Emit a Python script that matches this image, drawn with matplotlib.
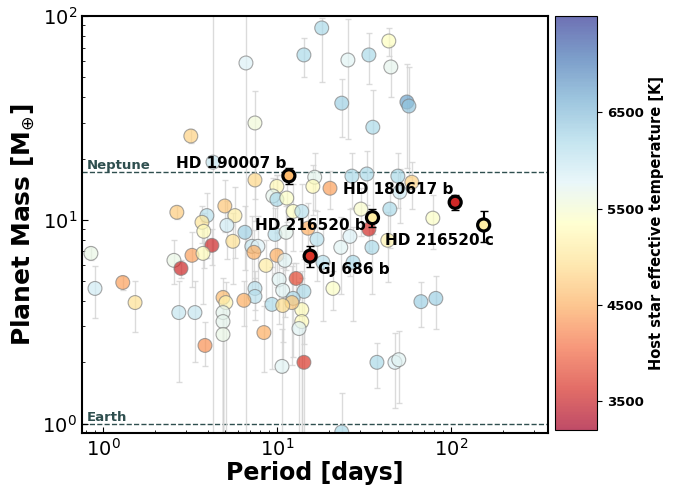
import numpy as np
import matplotlib
matplotlib.use('Agg')
import matplotlib.pyplot as plt

# background sample: period [d], mass [Mearth], Teff [K], mass errors
period = [0.853, 0.90, 1.30, 1.53, 2.56, 2.81, 2.73, 3.38, 3.86, 2.66,
          3.20, 4.29, 3.96, 3.71, 3.80, 5.02, 5.74, 5.16, 6.55, 5.58,
          4.23, 3.25, 3.76, 6.64, 7.48, 7.48, 10.0, 9.48, 10.0, 11.4,
          7.18, 7.78, 7.38, 8.65, 10.0, 11.1, 9.75, 11.3, 12.4, 13.9,
          15.1, 17.0, 16.5, 16.1, 20.2, 27.0, 32.9, 49.6, 59.7, 50.9,
          30.4, 44.6, 78.8, 33.8, 26.3, 23.3, 35.2, 43.4, 27.4, 18.4,
          21.0, 67.3, 82.0, 37.6, 47.7, 50.2, 23.6, 14.3, 13.9, 14.3,
          12.9, 10.3, 10.8, 12.4, 12.2, 9.36, 10.8, 13.9, 13.4, 10.7,
          7.48, 7.48, 6.46, 4.90, 5.09, 4.90, 4.90, 4.90, 8.42, 14.3,
          18.1, 25.6, 33.8, 44.0, 45.2, 23.6, 55.9, 57.4, 35.6]
mass = [6.85, 4.61, 4.93, 3.93, 6.33, 5.78, 3.51, 3.51, 2.42, 10.9,
        25.8, 19.2, 10.5, 9.73, 8.79, 11.7, 10.5, 9.40, 8.69, 7.85,
        7.50, 6.70, 6.85, 58.9, 29.9, 15.7, 14.6, 13.1, 12.6, 12.8,
        7.42, 7.42, 6.93, 5.98, 6.70, 6.33, 8.49, 8.69, 11.0, 11.0,
        9.1, 8.03, 16.2, 14.6, 14.3, 16.4, 16.8, 16.4, 15.3, 13.7,
        11.3, 11.3, 10.2, 9.0, 8.30, 7.33, 7.33, 7.94, 6.19, 6.19,
        4.61, 3.97, 4.12, 2.0, 2.0, 2.06, 0.91, 4.46, 3.63, 2.0,
        5.16, 5.10, 4.51, 4.12, 3.93, 3.85, 3.80, 3.17, 2.93, 1.91,
        4.61, 4.21, 4.03, 4.16, 3.93, 3.51, 3.17, 2.74, 2.80, 64.5,
        87.5, 60.9, 64.5, 75.5, 56.3, 37.4, 37.9, 36.2, 28.5]
teff = [5650, 5900, 4400, 4950, 5650, 3550, 6000, 6000, 4300, 4750,
        4800, 6000, 6100, 5000, 5300, 4700, 5100, 5900, 6300, 4950,
        3550, 4400, 5300, 5800, 5550, 4850, 5250, 5700, 6200, 5400,
        6000, 5800, 4500, 5100, 4500, 5750, 6100, 5700, 5350, 6100,
        4500, 6100, 5700, 5300, 4400, 6200, 6200, 6200, 4800, 5900,
        5450, 6200, 5400, 3600, 5800, 5750, 6200, 5200, 6200, 6100,
        5400, 6300, 6300, 6200, 5800, 5750, 6200, 6200, 5300, 3700,
        3800, 5750, 5750, 6200, 4700, 6200, 4900, 5300, 5750, 5750,
        6100, 6100, 4500, 4600, 5200, 5700, 5700, 5650, 4500, 6200,
        6200, 5750, 6200, 5350, 5700, 6300, 6700, 6400, 6200]
err_lo = [0.5, 1.3, 0.4, 1.1, 1.5, 0.6, 1.9, 1.5, 0.5, 0.8,
          2.0, 18.5, 4, 2, 3, 3, 4, 3, 3, 3,
          1.5, 2, 3, 58.5, 20, 3, 2, 3, 4, 3,
          3, 3, 2, 2, 2, 3, 3, 3, 4, 4,
          3, 3, 5, 4, 3, 5, 5, 5, 4, 4,
          3, 4, 3, 2, 3, 3, 3, 3, 3, 3,
          1, 1, 1.2, 0.5, 0.8, 0.8, 0.5, 2, 3.5, 1.95,
          1, 2, 2, 2, 2, 2, 2, 3.1, 2.9, 1,
          1, 1, 1, 4.1, 3.9, 3.45, 3.1, 2.7, 1, 14,
          40, 36, 18, 12, 16, 12, 20, 20, 20]
err_hi = [0.5, 1.3, 0.4, 1.1, 1.6, 0.6, 1.5, 1.5, 0.75, 0.8,
          2.0, 90, 3, 2, 2, 4, 4, 3, 3, 3,
          1.5, 2, 3, 60, 13, 3, 2, 3, 4, 3,
          3, 3, 2, 2, 2, 3, 3, 3, 4, 4,
          3, 3, 5, 4, 3, 5, 5, 5, 4, 4,
          3, 4, 3, 2, 3, 3, 3, 3, 3, 3,
          1, 1, 1.2, 0.5, 0.8, 0.8, 0.5, 2, 2, 1,
          1, 2, 2, 2, 2, 2, 2, 2, 2, 1,
          1, 1, 1, 1, 1, 1, 1, 1, 1, 14,
          10, 36, 18, 12, 16, 12, 20, 20, 15]

# highlighted planets
hl_names = ['HD 190007 b', 'HD 216520 b', 'HD 180617 b', 'HD 216520 c', 'GJ 686 b']
hl_period = [11.72, 35.45, 105.91, 154.43, 15.53]
hl_mass = [16.46, 10.26, 12.2, 9.44, 6.64]
hl_err = [1.5, 0.99, 1.0, 1.63, 0.8]
hl_teff = [4610, 5103, 3557, 5103, 3663]

vmin, vmax = 3200, 7500
cmap = plt.get_cmap('RdYlBu')
norm = plt.Normalize(vmin, vmax)

fig = plt.figure(figsize=(6.8, 4.87), dpi=100)
ax = fig.add_axes([0.1206, 0.1109, 0.685, 0.856])
cax = fig.add_axes([0.816, 0.117, 0.062, 0.850])

ax.set_xscale('log')
ax.set_yscale('log')

ax.errorbar(period, mass, yerr=[err_lo, err_hi], fmt='none', ecolor='lightgray',
            elinewidth=1, capsize=2, alpha=0.8, zorder=1)
sc = ax.scatter(period, mass, c=teff, cmap=cmap, norm=norm, s=100, alpha=0.7,
                edgecolors='grey', linewidths=0.8, zorder=2)

ax.errorbar(hl_period, hl_mass, yerr=hl_err, fmt='none', ecolor='k',
            elinewidth=1.5, capsize=3, zorder=4)
ax.scatter(hl_period, hl_mass, c=hl_teff, cmap=cmap, norm=norm, s=75,
           edgecolors='k', linewidths=2.3, zorder=5)

offsets = [(-1.5, 8.5, 'right'), (-5, -6, 'right'), (-1.5, 9.5, 'right'),
           (7.5, -11.5, 'right'), (5.5, -9.5, 'left')]
for name, p, m, (dx, dy, ha) in zip(hl_names, hl_period, hl_mass, offsets):
    ax.annotate(name, (p, m), xytext=(dx, dy), textcoords='offset points',
                ha=ha, va='center', fontsize=11, fontweight='bold', zorder=6)

ref_col = '#2f4f4f'
ax.axhline(17.15, color=ref_col, ls='--', lw=1, zorder=0)
ax.axhline(1.0, color=ref_col, ls='--', lw=1, zorder=0)
ax.text(0.81, 17.8, 'Neptune', color=ref_col, fontsize=9.5, fontweight='bold', va='baseline')
ax.text(0.81, 1.035, 'Earth', color=ref_col, fontsize=9.5, fontweight='bold', va='baseline')

ax.set_xlim(0.758, 361)
ax.set_ylim(0.9, 100)
ax.tick_params(which='both', direction='in', labelsize=14)
ax.tick_params(which='major', length=4)
ax.tick_params(which='minor', length=2)
for s in ax.spines.values():
    s.set_linewidth(1.5)

ax.set_xlabel('Period [days]', fontsize=17, fontweight='bold', labelpad=1)
ax.set_ylabel(r'Planet Mass [M$_{\oplus}$]', fontsize=18, fontweight='bold')

cb = fig.colorbar(sc, cax=cax)
cb.set_ticks([3500, 4500, 5500, 6500])
cb.ax.tick_params(labelsize=9.5)
for t in cb.ax.get_yticklabels():
    t.set_fontweight('bold')
cb.set_label('Host star effective temperature [K]', fontsize=10.5, fontweight='bold')

fig.savefig('out.png', dpi=100)
